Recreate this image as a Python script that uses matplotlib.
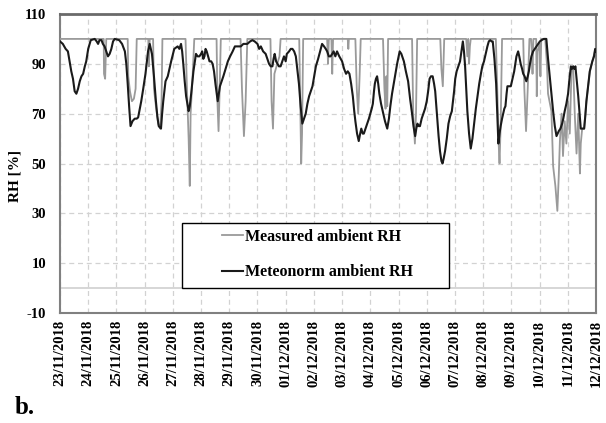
import matplotlib
matplotlib.use("Agg")
import matplotlib.pyplot as plt
from matplotlib.patches import Rectangle

# ---- data (x in days since 23/11/2018 00:00) ----
date_labels = ["23/11/2018", "24/11/2018", "25/11/2018", "26/11/2018", "27/11/2018",
               "28/11/2018", "29/11/2018", "30/11/2018", "01/12/2018", "02/12/2018",
               "03/12/2018", "04/12/2018", "05/12/2018", "06/12/2018", "07/12/2018",
               "08/12/2018", "09/12/2018", "10/12/2018", "11/12/2018", "12/12/2018"]
y_ticks = [-10, 10, 30, 50, 70, 90, 110]

measured_t = [0, 1.55, 1.56, 1.60, 1.62, 1.64,
              2.40, 2.42, 2.48, 2.55, 2.62, 2.68, 2.72,
              3.13, 3.15, 3.18,
              3.30, 3.33, 3.40, 3.48, 3.55, 3.60, 3.63,
              4.45, 4.50, 4.56, 4.60, 4.63, 4.70, 4.76,
              5.55, 5.58, 5.62, 5.66, 5.70,
              6.40, 6.45, 6.52, 6.58, 6.64,
              7.46, 7.50, 7.55, 7.60, 7.70, 7.78, 7.82,
              8.48, 8.52, 8.55, 8.58, 8.62,
              9.47, 9.50, 9.53, 9.62, 9.65, 9.68,
              10.20, 10.22, 10.24,
              10.47, 10.52, 10.57, 10.62, 10.66,
              11.45, 11.50, 11.54, 11.57, 11.60, 11.63,
              12.48, 12.52, 12.58, 12.62, 12.66,
              13.48, 13.52, 13.57, 13.62,
              14.40, 14.44, 14.47, 14.50, 14.53, 14.56,
              15.45, 15.50, 15.55, 15.58, 15.62, 15.67,
              16.42, 16.46, 16.52, 16.58, 16.64,
              16.70, 16.72, 16.75, 16.78, 16.88, 16.90, 16.93, 17.00, 17.03, 17.06,
              17.20, 17.26, 17.30, 17.42, 17.48, 17.56, 17.63, 17.68, 17.72, 17.78,
              17.83, 17.89, 17.95, 18.01, 18.07, 18.13, 18.19, 18.25, 18.31, 18.37,
              18.43, 18.46, 18.51, 18.58, 18.66, 18.78, 18.87, 18.96, 19.00]
measured_rh = [100, 100, 86, 84, 92, 100,
               100, 85, 79, 75, 76, 80, 100,
               100, 89, 100,
               100, 80, 73, 66, 64, 75, 100,
               100, 80, 60, 41, 70, 85, 100,
               100, 75, 63, 80, 100,
               100, 80, 61, 75, 100,
               100, 75, 64, 86, 90, 93, 100,
               100, 70, 50, 62, 100,
               100, 90, 100, 100, 86, 100,
               100, 96, 100,
               100, 80, 70, 85, 100,
               100, 80, 72, 85, 73, 100,
               100, 70, 58, 70, 100,
               100, 88, 81, 100,
               100, 93, 100, 90, 97, 100,
               100, 80, 58, 50, 65, 100,
               100, 80, 63, 80, 100,
               100, 96, 86, 100, 100, 77, 95, 98, 85, 100,
               100, 90, 78, 71, 49, 41, 31, 45, 59, 70,
               53, 67, 58, 75, 62, 87, 89, 69, 54, 70,
               46, 58, 64, 64, 75, 87, 91, 95, 94]

meteonorm_t = [0.00, 0.10, 0.20, 0.28, 0.34, 0.40, 0.46, 0.52, 0.58, 0.64, 0.70, 0.76, 0.82, 0.88,
               0.93, 1.00, 1.09, 1.23, 1.30, 1.35, 1.40, 1.47, 1.52, 1.58, 1.64, 1.70, 1.76, 1.82,
               1.88, 1.94, 2.10, 2.20, 2.30, 2.35, 2.40, 2.45, 2.50, 2.57, 2.65, 2.72, 2.77, 2.83,
               2.88, 2.95, 3.03, 3.12, 3.18, 3.26, 3.33, 3.40, 3.45, 3.50, 3.58, 3.62, 3.66, 3.74,
               3.82, 3.88, 3.94, 4.05, 4.17, 4.23, 4.29, 4.33, 4.37, 4.42, 4.47, 4.56, 4.60, 4.65,
               4.73, 4.82, 4.88, 4.94, 5.00, 5.04, 5.08, 5.12, 5.16, 5.20, 5.25, 5.30, 5.36, 5.41,
               5.46, 5.51, 5.59, 5.63, 5.67, 5.73, 5.79, 5.87, 5.95, 6.03, 6.12, 6.20, 6.30, 6.41,
               6.50, 6.64, 6.74, 6.82, 6.90, 7.00, 7.06, 7.12, 7.20, 7.29, 7.35, 7.41, 7.47, 7.53,
               7.57, 7.61, 7.66, 7.71, 7.76, 7.82, 7.88, 7.94, 8.00, 8.04, 8.12, 8.18, 8.24, 8.30,
               8.36, 8.41, 8.47, 8.53, 8.59, 8.65, 8.71, 8.77, 8.83, 8.89, 8.95, 9.01, 9.07, 9.15,
               9.22, 9.29, 9.36, 9.42, 9.47, 9.53, 9.59, 9.65, 9.70, 9.76, 9.82, 9.90, 10.00, 10.07,
               10.14, 10.20, 10.26, 10.32, 10.38, 10.43, 10.47, 10.53, 10.59, 10.64, 10.68, 10.73,
               10.77, 10.83, 10.89, 10.95, 11.00, 11.05, 11.09, 11.13, 11.16, 11.20, 11.24, 11.28,
               11.32, 11.38, 11.44, 11.52, 11.60, 11.66, 11.71, 11.77, 11.83, 11.89, 11.95, 12.04,
               12.10, 12.19, 12.26, 12.34, 12.41, 12.48, 12.53, 12.59, 12.63, 12.67, 12.72, 12.76,
               12.82, 12.88, 12.94, 13.00, 13.05, 13.10, 13.15, 13.21, 13.26, 13.30, 13.34, 13.38,
               13.42, 13.47, 13.52, 13.56, 13.60, 13.65, 13.71, 13.77, 13.83, 13.89, 13.93, 13.97,
               14.01, 14.06, 14.12, 14.18, 14.23, 14.28, 14.32, 14.36, 14.40, 14.44, 14.50, 14.56,
               14.62, 14.68, 14.74, 14.80, 14.86, 14.92, 14.97, 15.03, 15.09, 15.15, 15.20, 15.25,
               15.30, 15.34, 15.40, 15.46, 15.50, 15.54, 15.58, 15.62, 15.67, 15.71, 15.75, 15.79,
               15.83, 15.86, 15.92, 15.98, 16.04, 16.10, 16.14, 16.18, 16.24, 16.28, 16.33, 16.38,
               16.42, 16.47, 16.53, 16.58, 16.62, 16.66, 16.71, 16.77, 16.83, 16.89, 16.95, 17.01,
               17.07, 17.15, 17.24, 17.30, 17.36, 17.42, 17.48, 17.54, 17.60, 17.64, 17.68, 17.74,
               17.80, 17.84, 17.89, 17.95, 18.01, 18.06, 18.11, 18.15, 18.19, 18.23, 18.27, 18.32,
               18.37, 18.42, 18.46, 18.52, 18.58, 18.62, 18.66, 18.72, 18.78, 18.87, 18.93, 18.97,
               19.00]
meteonorm_rh = [99, 98, 96, 95, 91, 87, 84, 79, 78, 80, 83, 85, 86, 89,
                91, 96, 99.5, 100, 99, 98, 99.5, 99.5, 98, 97, 95, 93, 94, 96,
                99, 100, 99.5, 98, 95, 90, 82, 73, 65, 67, 68, 68, 68.5, 72,
                75, 80, 86, 95, 98, 94, 85, 75, 69, 65, 64, 70, 75, 83,
                85, 88, 91, 96, 97, 96, 98, 95, 90, 83, 77, 71, 73, 78,
                87, 94, 93, 93, 94, 95, 92, 93, 96, 95, 93, 91, 91, 90,
                87, 82, 75, 78, 81, 83, 85, 88, 91, 93, 95, 97, 97, 97,
                98, 98, 99, 99.5, 99, 98, 96, 97, 95, 94, 92, 90, 89, 89,
                92, 94, 91, 90, 89, 89, 91, 93, 91, 94, 95, 96, 96, 95,
                93, 88, 82, 73, 66, 68, 70, 74, 77, 79, 81, 85, 89, 92,
                95, 98, 97, 96, 95, 93, 93, 94, 95, 93, 95, 93, 91, 88,
                86, 87, 86, 82, 77, 71, 67, 62, 59, 62, 64, 62,
                62, 64, 66, 68, 70, 72, 74, 79, 82, 84, 85, 82,
                78, 74, 71, 67, 64, 68, 73, 78, 82, 86, 90, 95,
                94, 91, 87, 83, 76, 70, 65, 61, 64, 66, 65, 65,
                68, 70, 72, 75, 79, 84, 85, 85, 82, 79, 73, 67,
                61, 55, 51, 50, 52, 55, 60, 66, 69, 71, 75, 79,
                84, 87, 89, 91, 95, 99, 95, 89, 80, 71, 62, 56,
                60, 66, 72, 77, 82, 86, 89, 91, 94, 97, 99, 99.5,
                99, 99, 92, 82, 70, 58, 62, 65, 68, 70, 72, 73,
                78, 81, 81, 81, 84, 87, 90, 93, 95, 93, 90, 88,
                86, 85, 83, 85, 87, 90, 93, 95, 96, 97, 98, 99,
                99.5, 100, 100, 92, 85, 78, 71, 65, 61, 62, 63, 64,
                66, 68, 71, 74, 78, 84, 89, 88, 89, 88, 89, 83,
                77, 70, 64, 64, 64, 69, 75, 81, 87, 91, 93, 96,
                95]

# ---- figure ----
plt.rcParams['font.family'] = ['Liberation Serif', 'DejaVu Serif']
plt.rcParams['font.weight'] = 'bold'

fig = plt.figure(figsize=(6.06, 4.23), dpi=100)
ax = fig.add_axes([60/606, 1 - 313/423, 536/606, 299/423])

ax.plot(measured_t, measured_rh, color='#9a9a9a', lw=1.3, label='Measured ambient RH', zorder=3)
ax.plot(meteonorm_t, meteonorm_rh, color='#1a1a1a', lw=1.5, label='Meteonorm ambient RH', zorder=4)

ax.set_xlim(0, len(date_labels) - 1)
ax.set_ylim(-10, 110)
ax.set_xticks(range(len(date_labels)))
ax.set_xticklabels(date_labels, rotation=90, fontsize=10.5, fontweight='bold')
ax.set_yticks(y_ticks)
ax.set_yticklabels([str(v) for v in y_ticks], fontsize=10.5, fontweight='bold')
ax.tick_params(axis='both', length=0)
ax.tick_params(axis='y', pad=10)
ax.tick_params(axis='x', pad=5)

ax.grid(True, axis='both', color='#d2d2d2', linestyle=(0, (4, 3)), linewidth=0.9, zorder=0)
ax.axhline(0, color='#cfcfcf', lw=1.2, zorder=1)

for s in ax.spines.values():
    s.set_color('#808080')
    s.set_linewidth(1.5)
ax.spines['top'].set_color('#6a6a6a')
ax.spines['top'].set_linewidth(2.0)

ax.set_ylabel('RH [%]', fontsize=11, fontweight='bold')
ax.yaxis.set_label_coords(-0.071, 0.458)

# legend box
x0 = (182 - 60) / 536
x1 = (449 - 60) / 536
y0 = (313 - 288) / 299
y1 = (313 - 223) / 299
ax.add_patch(Rectangle((x0, y0), x1 - x0, y1 - y0, transform=ax.transAxes,
                       facecolor='white', edgecolor='black', lw=1.0, zorder=5))
leg = ax.legend(loc='upper left', bbox_to_anchor=((222 - 60) / 536, (313 - 229) / 299),
                frameon=False, fontsize=11.5, handlelength=1.3, handletextpad=0.15,
                labelspacing=1.2, borderpad=0, borderaxespad=0,
                prop={'weight': 'bold', 'size': 11.5})
leg.set_zorder(6)

fig.text(15/606, 1 - 414/423, 'b.', fontsize=18, fontweight='bold', va='baseline', ha='left')

fig.savefig('out.png', dpi=100)
